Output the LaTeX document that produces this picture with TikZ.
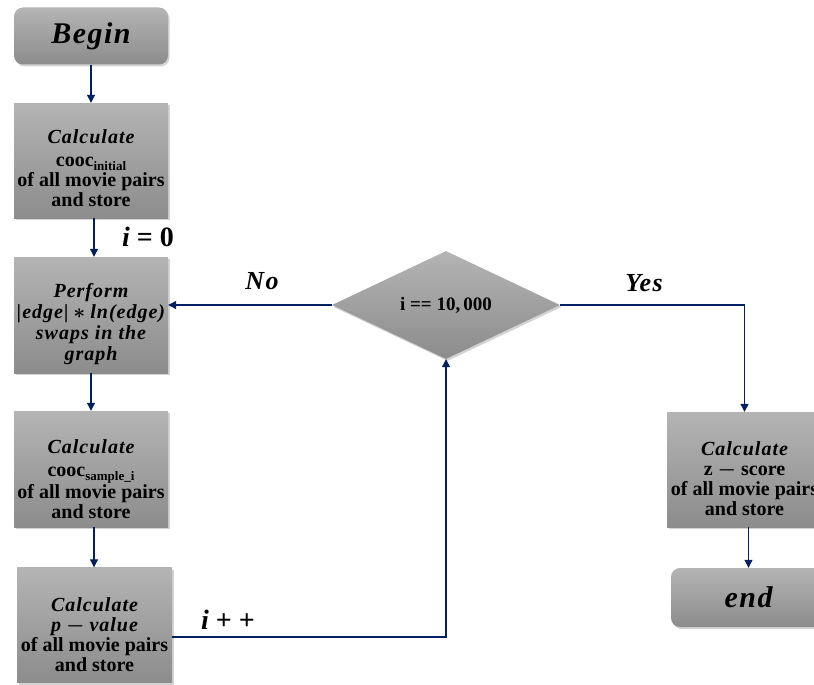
\documentclass[tikz,border=0pt]{standalone}
\usepackage{amsmath}
\usepackage{fontspec}
\setmainfont{Liberation Serif}
\newfontfamily\mitfont[LetterSpace=5]{Liberation Serif}
\newcommand\mth[1]{{\mitfont\bfseries\itshape #1}}
\newcommand\subtx[1]{\raisebox{-4pt}{\fontsize{13}{13}\selectfont #1}}
\usetikzlibrary{shapes.geometric,arrows.meta,shadows}
\definecolor{navy}{RGB}{0,32,96}
\definecolor{boxtop}{RGB}{180,180,180}
\definecolor{boxbot}{RGB}{140,140,140}
\tikzset{
  proc/.style={draw=none, top color=boxtop, bottom color=boxbot,
    minimum width=154pt, minimum height=115pt, inner sep=0pt,
    drop shadow={shadow xshift=1.5pt, shadow yshift=-2pt, opacity=0.35}},
  txt/.style={inner sep=0pt, align=center,
    font=\boldmath\bfseries\fontsize{20}{20}\selectfont},
  term/.style={proc, rounded corners=9pt, minimum height=57pt,
    font=\boldmath\bfseries\fontsize{30}{32}\selectfont},
  decision/.style={diamond, draw=none, top color=boxtop, bottom color=boxbot,
    minimum width=228pt, minimum height=96pt, inner sep=0pt,
    font=\boldmath\bfseries\fontsize{19}{20}\selectfont,
    drop shadow={shadow xshift=1.5pt, shadow yshift=-2pt, opacity=0.35}},
  flow/.style={draw=navy, line width=1.1pt, -{Triangle[length=8pt,width=8pt]}},
  lbl/.style={font=\boldmath\bfseries\fontsize{26}{28}\selectfont, inner sep=0pt}
}
\begin{document}
\begin{tikzpicture}[x=1pt,y=1pt]
\useasboundingbox (0,0) rectangle (814,-685);
\clip (0,0) rectangle (814,-685);
% boxes
\node[term] (begin) at (91,-36) {\mth{Begin}};
\node[proc] (calc1) at (91,-160.5) {};
\node[proc, minimum height=116pt] (perform) at (91,-315) {};
\node[proc, minimum height=116pt] (calc2) at (91,-469) {};
\node[proc, minimum width=155pt] (calc3) at (94.5,-625) {};
\node[decision] (dia) at (446,-305) {i == 10,\,000};
\node[proc, minimum width=155pt] (zbox) at (744.5,-469.5) {};
\node[term, minimum width=155pt, minimum height=59pt] (end) at (748.5,-597.5) {\mth{end}};
% box texts
\node[txt] (calc1t) at ([yshift=-8pt]calc1.center) {\mth{Calculate}\\[3pt]cooc\subtx{initial}\\of all movie pairs\\and store};
\node[txt, font=\boldmath\bfseries\fontsize{20}{21}\selectfont] (performt) at ([yshift=-9pt]perform.center) {\mth{Perform}\\\mth{|edge|} $*$ \mth{ln(edge)}\\\mth{swaps in the}\\\mth{graph}};
\node[txt] (calc2t) at ([yshift=-10pt]calc2.center) {\mth{Calculate}\\[3pt]cooc\subtx{sample\_i}\\of all movie pairs\\and store};
\node[txt] (calc3t) at ([yshift=-10pt]calc3.center) {\mth{Calculate}\\\mth{p} $-$ \mth{value}\\of all movie pairs\\and store};
\node[txt] (zboxt) at ([yshift=-9pt]zbox.center) {\mth{Calculate}\\z $-$ score\\of all movie pairs\\and store};
% labels
\node[lbl, font=\boldmath\bfseries\fontsize{28}{30}\selectfont] (izero) at (148,-237) {\mth{i}\hspace{7pt}=\hspace{7pt}0};
\node[lbl] (no) at (262,-281) {\mth{No}};
\node[lbl] (yes) at (644,-283) {\mth{Yes}};
\node[lbl, font=\boldmath\bfseries\fontsize{28}{30}\selectfont] (ipp) at (228,-620) {\mth{i}\hspace{7pt}+\hspace{7pt}+};
% connectors
\draw[flow] (begin) -- (calc1);
\draw[flow] ([xshift=3pt]calc1.south) -- ([xshift=3pt]perform.north);
\draw[flow] (perform) -- (calc2);
\draw[flow] ([xshift=3pt]calc2.south) -- ([xshift=3pt]calc2.south |- calc3.north);
\draw[flow] ([yshift=-12pt]calc3.east) -| (dia.south);
\draw[flow] (dia.west) -- (dia.west -| perform.east);
\draw[flow] (dia.east) -| (zbox.north);
\draw[flow] (end.north |- zbox.south) -- (end.north);
\end{tikzpicture}
\end{document}
